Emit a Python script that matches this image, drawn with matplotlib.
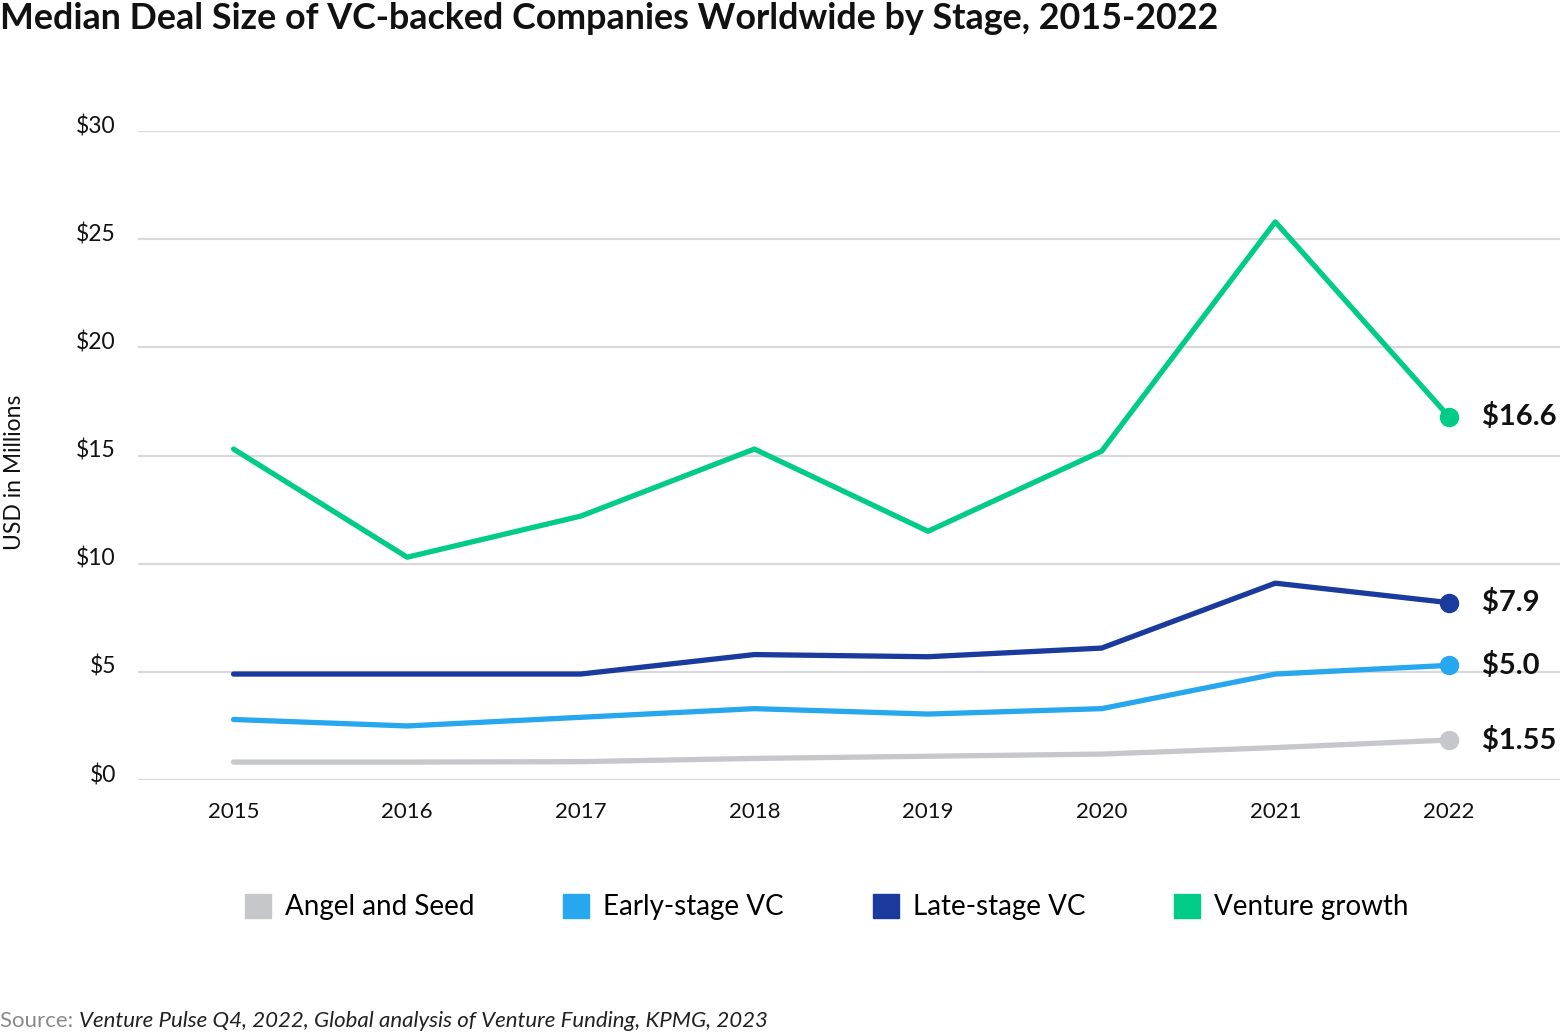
import matplotlib
matplotlib.use("Agg")
import matplotlib.pyplot as plt
import matplotlib.patches as mpatches
from matplotlib.transforms import ScaledTranslation

plt.rcParams["font.family"] = ["Lato", "DejaVu Sans"]

# ── data ─────────────────────────────────────────────────────────────────────
years = [2015, 2016, 2017, 2018, 2019, 2020, 2021, 2022]

angel_seed     = [0.83, 0.83, 0.85, 1.0, 1.1, 1.2, 1.5, 1.85]
early_stage    = [2.8, 2.5, 2.9, 3.3, 3.05, 3.3, 4.9, 5.3]
late_stage     = [4.9, 4.9, 4.9, 5.8, 5.7, 6.1, 9.1, 8.2]
venture_growth = [15.3, 10.3, 12.2, 15.3, 11.5, 15.2, 25.8, 16.8]

series_names  = ["Angel and Seed", "Early-stage VC", "Late-stage VC", "Venture growth"]
end_labels    = ["$1.55", "$5.0", "$7.9", "$16.6"]
y_ticks       = [0, 5, 10, 15, 20, 25, 30]
y_tick_labels = ["$0", "$5", "$10", "$15", "$20", "$25", "$30"]

colors = ["#C6C7CB", "#27A8EE", "#1B3A9E", "#00CC88"]

# ── figure ───────────────────────────────────────────────────────────────────
fig = plt.figure(figsize=(15.6, 10.34), dpi=100)
ax = fig.add_axes([0.0885, 0.2456, 0.9115, 0.6277])

all_series = [angel_seed, early_stage, late_stage, venture_growth]
for vals, color, label in zip(all_series, colors, end_labels):
    ax.plot(years, vals, color=color, linewidth=3.8,
            solid_capstyle="round", solid_joinstyle="round", zorder=3)
    ax.plot(years[-1], vals[-1], "o", color=color, markersize=13,
            zorder=4, clip_on=False)
    ax.annotate(label, xy=(years[-1], vals[-1]), xytext=(24, 0),
                textcoords="offset points", ha="left", va="center",
                fontsize=21, fontweight="bold", color="#111111")

ax.set_xlim(2014.45, 2022.64)
ax.set_ylim(0, 30)
ax.set_xticks(years)
ax.set_xticklabels([str(y) for y in years], fontsize=16, color="#111111")
ax.set_yticks(y_ticks)
ax.set_yticklabels(y_tick_labels, fontsize=16.5, color="#111111")
ax.tick_params(axis="both", length=0)
ax.tick_params(axis="x", pad=16)
ax.tick_params(axis="y", pad=16)
for lbl in ax.get_yticklabels():
    lbl.set_transform(lbl.get_transform()
                      + ScaledTranslation(0, 5 / 72, fig.dpi_scale_trans))

ax.grid(True, axis="y", color="#D8D8DD", linewidth=1.6, zorder=0)
for s in ax.spines.values():
    s.set_visible(False)

fig.text(0.009, 0.543, "USD in Millions", rotation=90, ha="center",
         va="center", fontsize=16.5, color="#111111")

fig.text(0.0, 0.982, "Median Deal Size of VC-backed Companies Worldwide by Stage, 2015-2022",
         ha="left", va="center", fontsize=25.8, fontweight="bold", color="#111111")

handles = [mpatches.Patch(color=c, label=n) for c, n in zip(colors, series_names)]
fig.legend(handles=handles, loc="center", bbox_to_anchor=(0.530, 0.1228),
           ncol=4, frameon=False, fontsize=20, handlelength=0.94,
           handleheight=0.94, handletextpad=0.5, columnspacing=3.2)

src = fig.text(0.0, 0.013, "Source: ", ha="left", va="center",
               fontsize=16, color="#8A8A8A")
fig.canvas.draw()
bb = src.get_window_extent()
fig.text(bb.x1 / fig.bbox.width, 0.013,
         "Venture Pulse Q4, 2022, Global analysis of Venture Funding, KPMG, 2023",
         fontsize=16, style="italic", color="#222222",
         va="center", ha="left")

fig.savefig("out.png", dpi=100)
